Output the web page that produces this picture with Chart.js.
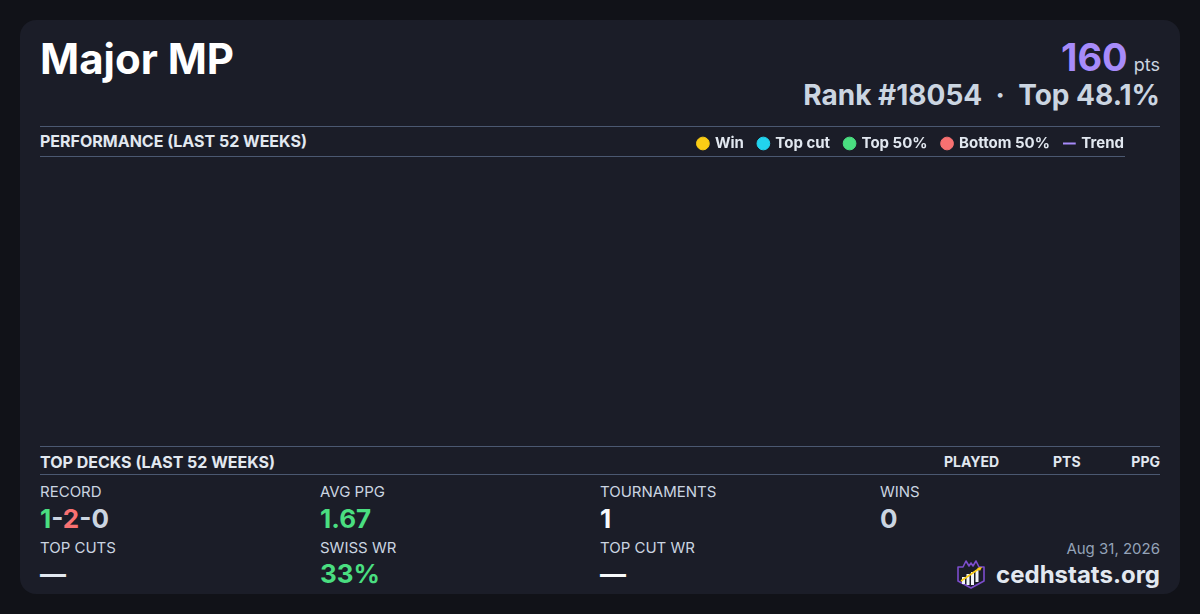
<!DOCTYPE html>
<html>
<head>
<meta charset="utf-8">
<script src="https://cdn.jsdelivr.net/npm/chart.js@4"></script>
<style>
  html,body{margin:0;padding:0;background:#111218;width:1200px;height:614px;overflow:hidden;font-family:Inter,"Noto Sans",sans-serif;}
  .card{position:absolute;left:20px;top:20px;width:1160px;height:574px;background:#1b1d28;border-radius:16px;}
  .abs{position:absolute;white-space:nowrap;}
  .title{left:40px;top:33px;font-size:42px;font-weight:700;color:#ffffff;}
  .pts{right:40px;top:34px;text-align:right;}
  .pts .big{font-size:38px;font-weight:700;color:#a78bfa;}
  .pts .unit{font-size:18px;color:#cbd5e1;margin-left:6px;}
  .rank{right:40px;top:78px;font-size:28px;font-weight:700;color:#cbd5e1;}
  .hline{position:absolute;height:1px;background:#4b5871;}
  .sec{font-size:16px;font-weight:700;color:#e2e8f0;}
  .sec2{font-size:14px;font-weight:700;color:#e2e8f0;}
  .lab{font-size:15px;color:#cbd5e1;}
  .val{font-size:26px;font-weight:700;}
  #wrap{position:absolute;left:40px;top:121px;width:1099px;height:324px;}
  .brand{right:40px;top:558px;display:flex;align-items:center;gap:10px;}
</style>
</head>
<body>
<div class="card"></div>
<div class="abs title">Major MP</div>
<div class="abs pts"><span class="big">160</span><span class="unit">pts</span></div>
<div class="abs rank">Rank #18054 &nbsp;·&nbsp; Top 48.1%</div>

<div class="hline" style="left:40px;top:126px;width:1120px;"></div>
<div class="abs sec" style="left:40px;top:131px;">PERFORMANCE (LAST 52 WEEKS)</div>
<div class="hline" style="left:40px;top:156px;width:1085px;"></div>
<div id="wrap"><canvas id="c"></canvas></div>

<div class="hline" style="left:40px;top:446px;width:1120px;"></div>
<div class="abs sec" style="left:40px;top:452px;">TOP DECKS (LAST 52 WEEKS)</div>
<div class="abs sec2" style="left:944px;top:453px;">PLAYED</div>
<div class="abs sec2" style="left:1053px;top:453px;">PTS</div>
<div class="abs sec2" style="right:40px;top:453px;">PPG</div>
<div class="hline" style="left:40px;top:474px;width:1120px;"></div>

<div class="abs lab" style="left:40px;top:482px;">RECORD</div>
<div class="abs val" style="left:40px;top:503px;"><span style="color:#4ade80">1</span><span style="color:#cbd5e1">-</span><span style="color:#f87171">2</span><span style="color:#cbd5e1">-0</span></div>
<div class="abs lab" style="left:320px;top:482px;">AVG PPG</div>
<div class="abs val" style="left:320px;top:503px;color:#4ade80;">1.67</div>
<div class="abs lab" style="left:600px;top:482px;">TOURNAMENTS</div>
<div class="abs val" style="left:600px;top:503px;color:#f8fafc;">1</div>
<div class="abs lab" style="left:880px;top:482px;">WINS</div>
<div class="abs val" style="left:880px;top:503px;color:#cbd5e1;">0</div>

<div class="abs lab" style="left:40px;top:538px;">TOP CUTS</div>
<div class="abs val" style="left:40px;top:558px;color:#e2e8f0;">—</div>
<div class="abs lab" style="left:320px;top:538px;">SWISS WR</div>
<div class="abs val" style="left:320px;top:558px;color:#4ade80;">33%</div>
<div class="abs lab" style="left:600px;top:538px;">TOP CUT WR</div>
<div class="abs val" style="left:600px;top:558px;color:#f8fafc;">—</div>

<div class="abs lab" style="right:40px;top:539px;color:#94a3b8;">Aug 31, 2026</div>
<div class="abs brand">
<svg width="30" height="32" viewBox="0 0 30 32">
  <path d="M2 9 L7 9 L10 3 L13 8 L15 5 L17 8 L20 3 L23 9 L28 9 L28 23 L15 30 L2 23 Z" fill="#1b1d28" stroke="#7c4dcc" stroke-width="1.6" stroke-linejoin="round"/>
  <rect x="6" y="19" width="3" height="7" fill="#f1f5f9"/>
  <rect x="10.5" y="16" width="3" height="11" fill="#f1f5f9"/>
  <rect x="15" y="14" width="3" height="13" fill="#f1f5f9"/>
  <rect x="19.5" y="12" width="3" height="12" fill="#f1f5f9"/>
  <line x1="5" y1="23" x2="24" y2="10" stroke="#facc15" stroke-width="1.6"/>
  <path d="M26 9 L21 10 L24 13 Z" fill="#facc15"/>
</svg>
<span class="val" style="font-size:24px;color:#e2e8f0;">cedhstats.org</span>
</div>

<script>
// Performance over the last 52 weeks: no placements were recorded in the chart.
const weeks = [];
const winValues = [];
const topCutValues = [];
const top50Values = [];
const bottom50Values = [];
const trendValues = [];
const seriesNames = ['Win', 'Top cut', 'Top 50%', 'Bottom 50%', 'Trend'];
const seriesColors = ['#facc15', '#22d3ee', '#4ade80', '#f87171', '#a78bfa'];

const ctx = document.getElementById('c');
new Chart(ctx, {
  type: 'scatter',
  data: {
    labels: weeks,
    datasets: [
      {label: seriesNames[0], data: winValues, backgroundColor: seriesColors[0], borderColor: seriesColors[0], pointStyle: 'circle'},
      {label: seriesNames[1], data: topCutValues, backgroundColor: seriesColors[1], borderColor: seriesColors[1], pointStyle: 'circle'},
      {label: seriesNames[2], data: top50Values, backgroundColor: seriesColors[2], borderColor: seriesColors[2], pointStyle: 'circle'},
      {label: seriesNames[3], data: bottom50Values, backgroundColor: seriesColors[3], borderColor: seriesColors[3], pointStyle: 'circle'},
      {label: seriesNames[4], data: trendValues, type: 'line', showLine: true, backgroundColor: seriesColors[4], borderColor: seriesColors[4], borderWidth: 2, pointStyle: 'line'}
    ]
  },
  options: {
    responsive: true,
    maintainAspectRatio: false,
    animation: false,
    layout: {padding: 0},
    scales: {x: {display: false}, y: {display: false}},
    plugins: {
      tooltip: {enabled: false},
      legend: {
        display: true,
        position: 'top',
        align: 'end',
        labels: {
          usePointStyle: true,
          boxWidth: 9,
          boxHeight: 9,
          padding: 15,
          color: '#e2e8f0',
          font: {family: 'Inter', size: 15, weight: '700'}
        }
      }
    }
  }
});
</script>
</body>
</html>
